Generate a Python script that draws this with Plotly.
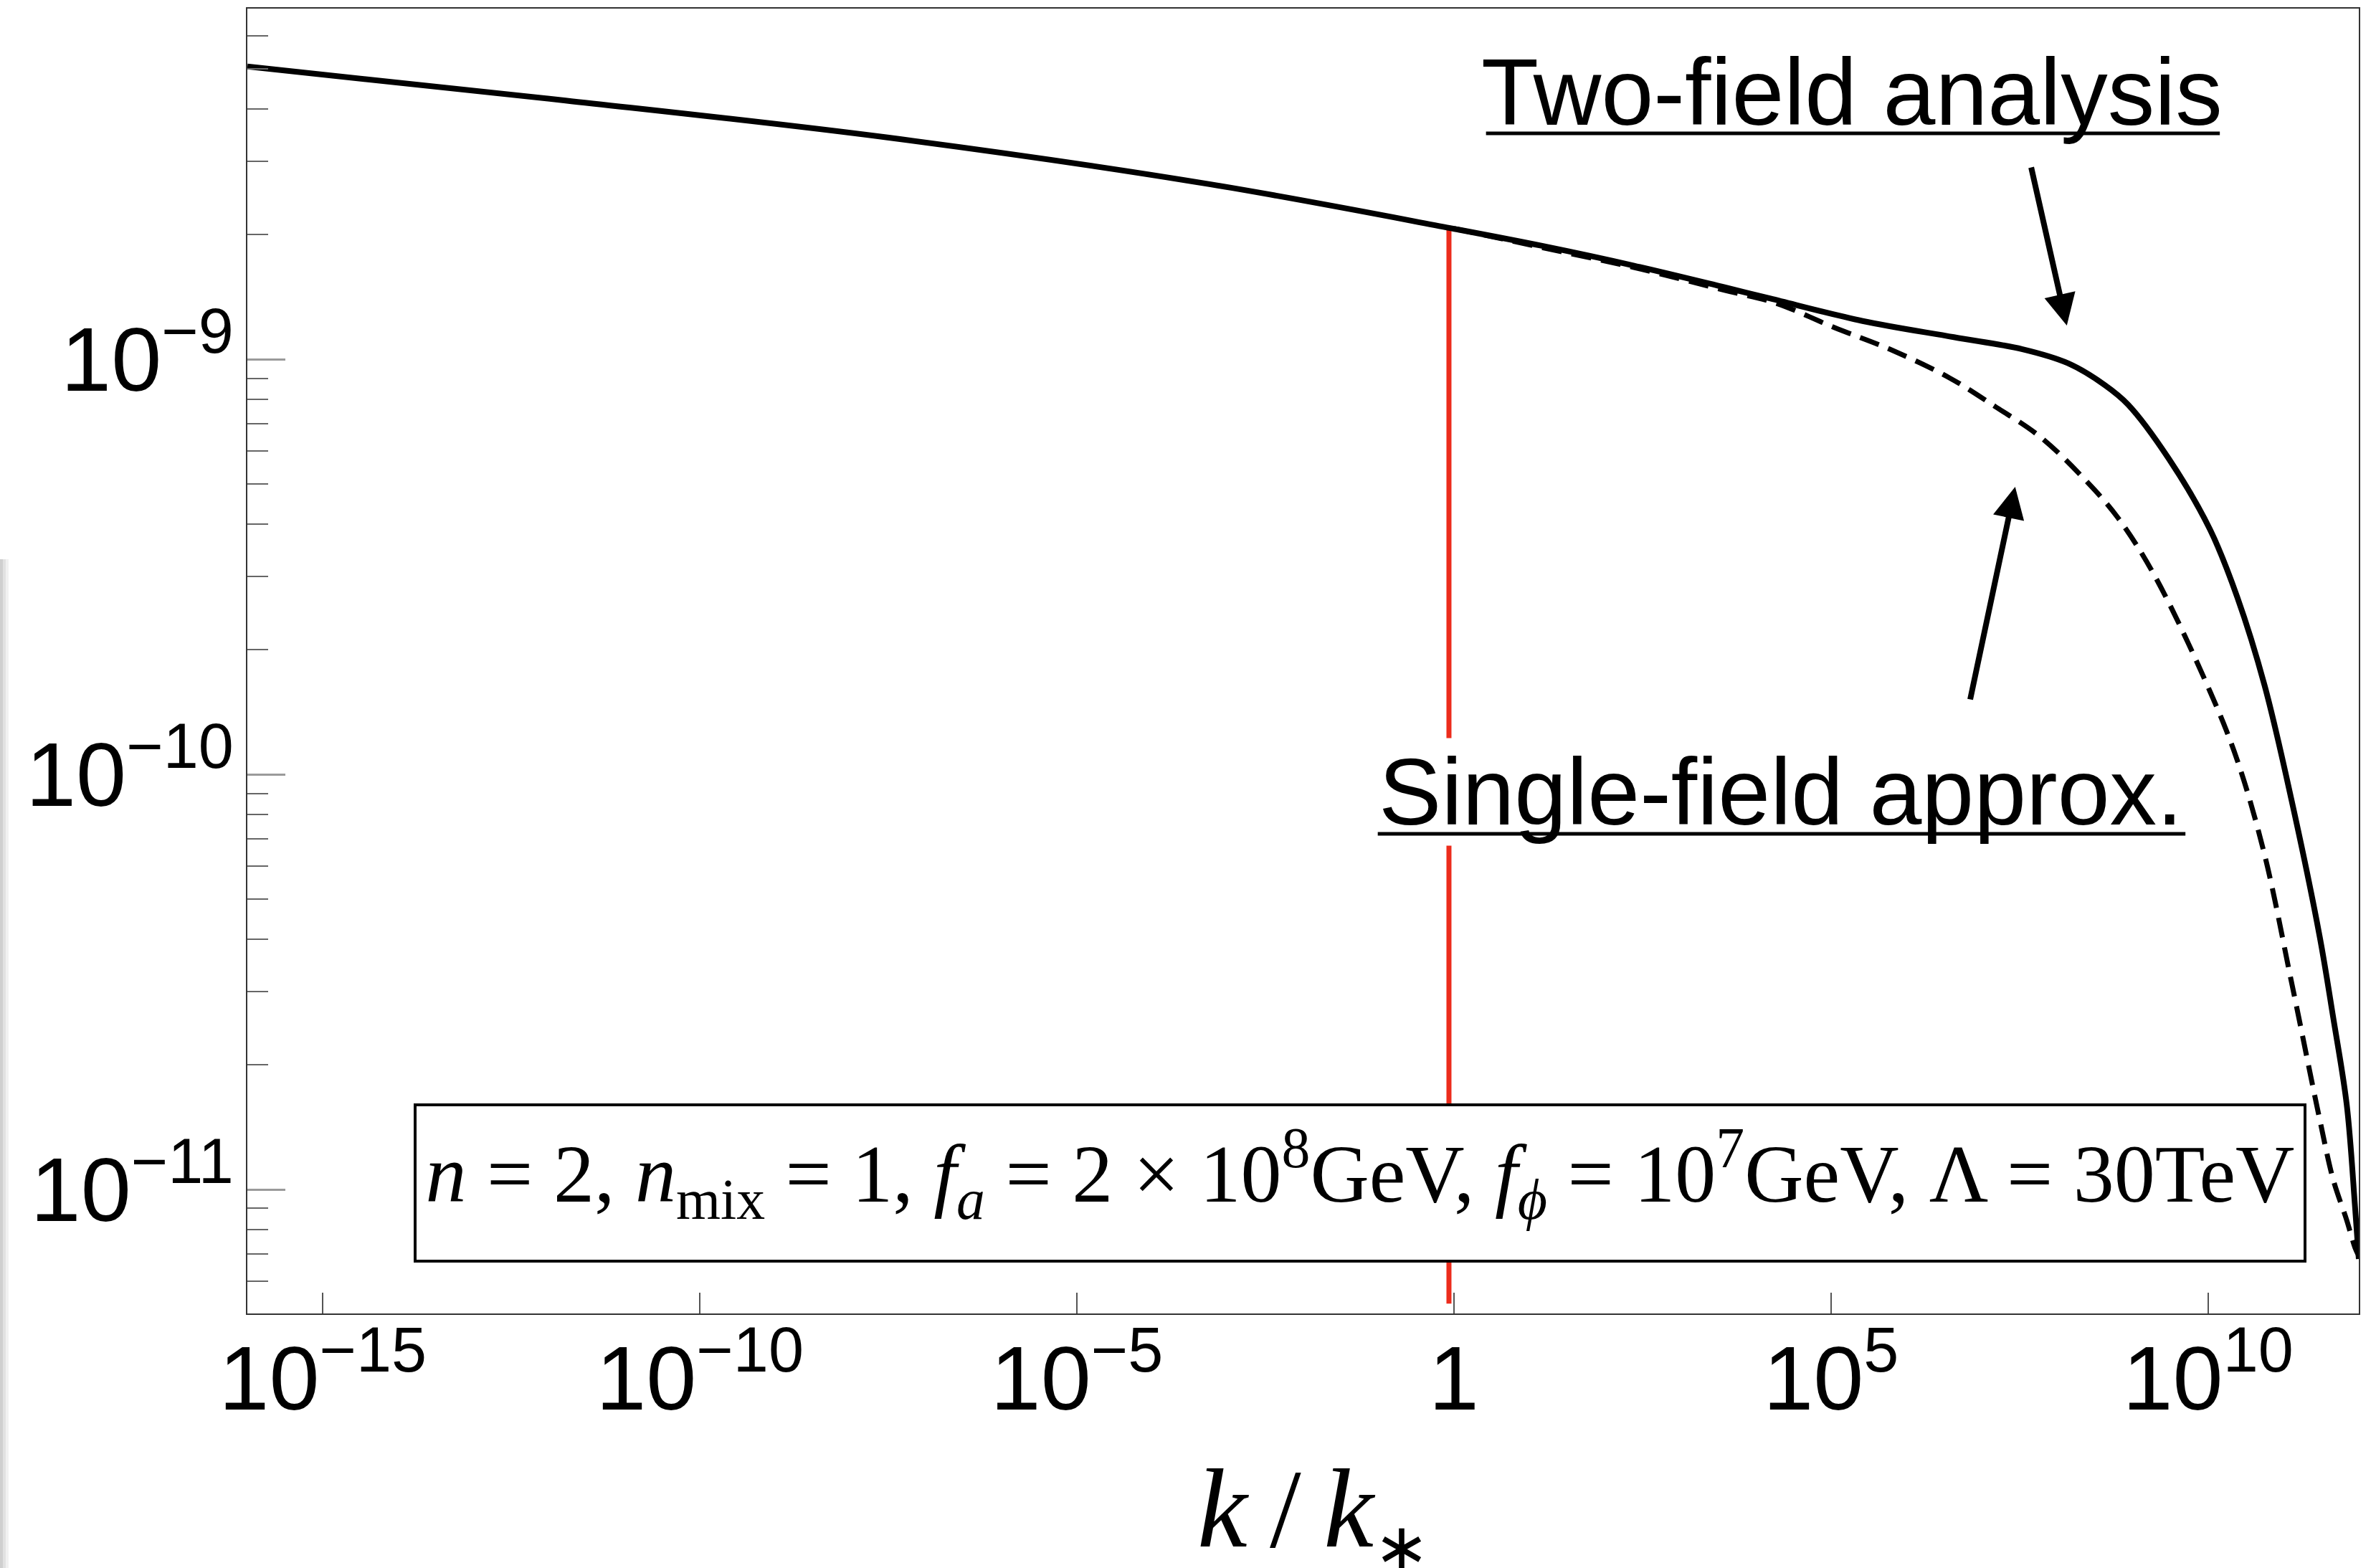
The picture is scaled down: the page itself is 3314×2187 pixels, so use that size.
import plotly.graph_objects as go

# ---- curve data: k/k_* and the power spectrum ----
k_two_field = [1.0e-16, 1.66e-12, 3.09e-8, 5.75e-4, 0.891, 14.8, 245, 3.89e3, 1.58e4,
               2.63e5, 4.27e6, 3.47e7, 1.41e8, 4.27e8, 8.7e8, 3.02e9, 1.07e10, 2.45e10,
               5.62e10, 1.29e11, 3.02e11, 4.57e11, 6.92e11, 8.91e11, 1.0e12]
P_two_field = [5.07e-9, 4.20e-9, 3.42e-9, 2.64e-9, 2.07e-9, 1.875e-9, 1.68e-9, 1.49e-9, 1.40e-9,
               1.236e-9, 1.13e-9, 1.057e-9, 9.77e-10, 8.67e-10, 7.78e-10, 5.76e-10, 3.88e-10, 2.67e-10,
               1.64e-10, 8.63e-11, 4.08e-11, 2.60e-11, 1.60e-11, 9.1e-12, 6.8e-12]

k_single_field = [1.0, 14.8, 245, 3.89e3, 1.86e4, 1.12e5, 6.03e5, 3.72e6, 1.51e7, 6.03e7,
                  2.40e8, 6.46e8, 2.0e9, 1.07e10, 2.45e10, 5.62e10, 1.29e11, 3.02e11,
                  4.57e11, 6.92e11, 8.91e11, 1.0e12]
P_single_field = [2.065e-9, 1.858e-9, 1.663e-9, 1.466e-9, 1.365e-9, 1.191e-9, 1.057e-9, 9.02e-10,
                  7.69e-10, 6.49e-10, 5.10e-10, 4.14e-10, 2.99e-10, 1.58e-10, 1.08e-10, 6.41e-11,
                  3.14e-11, 1.48e-11, 1.057e-11, 8.43e-12, 7.24e-12, 6.92e-12]

# vertical marker near the pivot scale
k_marker = [0.86, 0.86]
P_marker = [2.05e-9, 5.31e-12]

# ---- axes ----
x_range_log = [-16, 12]
y_range_log = [-11.2988, -8.1554]
x_tickvals = [1e-15, 1e-10, 1e-5, 1, 1e5, 1e10]
x_ticktext = ["10<sup>\u221215</sup>", "10<sup>\u221210</sup>", "10<sup>\u22125</sup>", "1",
              "10<sup>5</sup>", "10<sup>10</sup>"]
y_tickvals = [1e-11, 1e-10, 1e-9]
y_ticktext = ["10<sup>\u221211</sup>", "10<sup>\u221210</sup>", "10<sup>\u22129</sup>"]
y_minor_vals = [m * 10.0 ** e for e in (-12, -11, -10, -9) for m in range(2, 10)
                if 10 ** y_range_log[0] < m * 10.0 ** e < 6.5e-9]

x_title = "<i>k</i>\u2009/\u2009<i>k</i><sub><span style='font-size:85%'>\u2217</span></sub>"

# ---- annotation anchors (log10 units, as plotly expects on log axes) ----
param_text = ("<i>n</i> = 2, <i>n</i><sub>mix</sub> = 1, <i>f</i><sub><i>a</i></sub> = 2 \u00d7 10<sup>8</sup>GeV, "
              "<i>f</i><sub><i>\u03d5</i></sub> = 10<sup>7</sup>GeV, \u039b = 30TeV")
param_pos = (-1.245, -10.9845)
two_label = "Two-field analysis"
single_label = "Single-field approx."
two_label_pos = (5.279, -8.356)
single_label_pos = (4.329, -10.0415)
# underline rules: right end (log10 units) and length in px
two_underline_end = (10.157, -8.456)
two_underline_len = 1025
single_underline_end = (9.701, -10.1434)
single_underline_len = 1128
two_arrow_tip = (8.128, -8.9188)
single_arrow_tip = (7.443, -9.3074)

SANS = "Liberation Sans, Arial, sans-serif"
SERIF = "Liberation Serif, Times New Roman, serif"

fig = go.Figure()

fig.add_trace(go.Scatter(x=k_marker, y=P_marker, mode="lines",
                         line=dict(color="#EC2C1C", width=7), hoverinfo="skip"))
fig.add_trace(go.Scatter(x=k_two_field, y=P_two_field, mode="lines",
                         line=dict(color="black", width=8, shape="spline", smoothing=1.0)))
fig.add_trace(go.Scatter(x=k_single_field, y=P_single_field, mode="lines",
                         line=dict(color="black", width=7, dash="28px,14px", shape="spline", smoothing=1.0)))

fig.update_xaxes(
    type="log", range=x_range_log, automargin=False,
    tickmode="array", tickvals=x_tickvals, ticktext=x_ticktext,
    ticks="inside", ticklen=29, tickwidth=2, tickcolor="#555",
    tickfont=dict(family=SANS, size=126, color="black"),
    ticklabelstandoff=-19,
    showline=True, mirror=True, linecolor="#333", linewidth=2,
    showgrid=False, zeroline=False,
)
fig.update_yaxes(
    type="log", range=y_range_log, automargin=False,
    tickmode="array", tickvals=y_tickvals, ticktext=y_ticktext,
    ticks="inside", ticklen=53, tickwidth=3, tickcolor="#9a9a9a",
    tickfont=dict(family=SANS, size=126, color="black"),
    ticklabelstandoff=-8,
    minor=dict(tickmode="array", tickvals=y_minor_vals, ticks="inside",
               ticklen=29, tickwidth=2, tickcolor="#666", showgrid=False),
    showline=True, mirror=True, linecolor="#333", linewidth=2,
    showgrid=False, zeroline=False,
)


def rule(end, length):
    # thin horizontal rule drawn as a headless annotation line
    return dict(x=end[0], y=end[1], xref="x", yref="y", text="", showarrow=True,
                arrowhead=0, arrowwidth=5, arrowcolor="black", ax=-length, ay=0, standoff=0)


annotations = [
    # x-axis title, allowed to run to the bottom edge of the page
    dict(x=0.5049, y=-0.2082, xref="paper", yref="paper", text=x_title,
         showarrow=False, font=dict(family=SERIF, size=157, color="black"),
         xanchor="center", yanchor="bottom", borderpad=0),
    # parameter box
    dict(x=param_pos[0], y=param_pos[1], xref="x", yref="y", text=param_text,
         showarrow=False, font=dict(family=SERIF, size=114, color="black"),
         bgcolor="white", bordercolor="black", borderwidth=4, borderpad=14,
         width=2604, height=186, align="center", valign="top",
         xanchor="center", yanchor="middle"),
    dict(x=two_label_pos[0], y=two_label_pos[1], xref="x", yref="y", text=two_label,
         showarrow=False, font=dict(family=SANS, size=131, color="black"),
         xanchor="center", yanchor="middle"),
    rule(two_underline_end, two_underline_len),
    dict(x=single_label_pos[0], y=single_label_pos[1], xref="x", yref="y", text=single_label,
         showarrow=False, font=dict(family=SANS, size=131, color="black"),
         bgcolor="white", xanchor="center", yanchor="middle"),
    rule(single_underline_end, single_underline_len),
    dict(x=two_arrow_tip[0], y=two_arrow_tip[1], xref="x", yref="y", text="",
         showarrow=True, arrowhead=2, arrowsize=1.1, arrowwidth=8, arrowcolor="black",
         ax=-50, ay=-222, standoff=0),
    dict(x=single_arrow_tip[0], y=single_arrow_tip[1], xref="x", yref="y", text="",
         showarrow=True, arrowhead=2, arrowsize=1.1, arrowwidth=8, arrowcolor="black",
         ax=-63, ay=298, standoff=0),
]

# soft page-edge shadow along the far left
shapes = []
for x0, x1, col in [(-0.11715, -0.11579, "#cfcfcf"), (-0.11579, -0.11443, "#e2e2e2"),
                    (-0.11443, -0.11307, "#f1f1f1")]:
    shapes.append(dict(type="rect", xref="paper", yref="paper", x0=x0, x1=x1,
                       y0=-0.2, y1=0.578, line=dict(width=0), fillcolor=col, layer="below"))

fig.update_layout(
    width=3314, height=2187,
    margin=dict(l=345, r=24, t=12, b=355, pad=0),
    paper_bgcolor="white", plot_bgcolor="white",
    showlegend=False,
    font=dict(family=SANS, color="black"),
    annotations=annotations,
    shapes=shapes,
)

fig.write_html("out.html")
